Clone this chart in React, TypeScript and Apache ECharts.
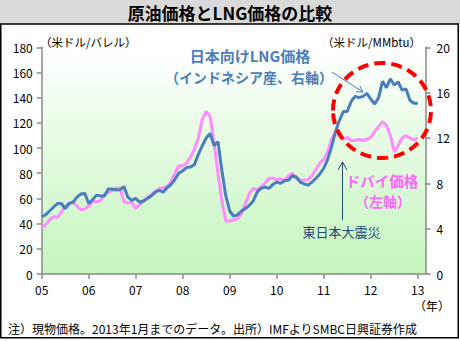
import React, { useEffect, useRef } from "react";
import * as echarts from "echarts";

// Monthly data, Jan 2005 .. Jan 2013
const lngJapan: number[] = [
  5.06, 5.22, 5.56, 5.89, 6.22, 6.22, 5.78, 6.22, 6.33, 6.78, 7.06, 7.11,
  6.22, 6.56, 6.96, 6.89, 6.89, 7.5, 7.5, 7.41, 7.44, 7.71, 6.78, 6.5,
  6.67, 6.33, 6.44, 6.67, 6.89, 7.22, 7.39, 7.22, 7.61, 7.89, 8.33, 8.89,
  9.11, 9.39, 9.44, 9.67, 10.56, 11.33, 12.0, 12.4, 11.33, 11.67, 9.11, 6.89,
  5.56, 5.11, 5.22, 5.56, 5.78, 6.06, 6.44, 7.22, 7.56, 7.67, 7.56, 7.89,
  8.11, 8.0, 8.22, 8.28, 8.67, 8.56, 8.11, 7.94, 7.84, 8.11, 8.44, 8.83,
  9.33, 10.11, 11.22, 12.56, 13.56, 14.33, 14.33, 15.22, 15.67, 15.56, 15.67, 15.94,
  15.44, 15.0, 15.56, 17.0, 16.44, 17.22, 16.67, 16.94, 16.22, 16.33, 15.33, 15.06,
  15.06,
];

const dubai: number[] = [
  36.5, 39, 43, 45.5, 45, 49, 54, 56, 57, 54, 51, 51.5,
  54, 57.5, 57.5, 58, 63, 65, 66, 68, 68, 57.5, 56.5, 56.5,
  52, 55, 58, 61, 63, 65.5, 68, 68.5, 69.5, 73, 80, 86,
  86, 88, 93, 99, 108, 123, 129, 125, 104, 80, 58, 42,
  42, 43, 44, 48, 56, 64, 68, 67, 69, 72, 76, 76,
  75, 75.5, 74.5, 78, 80, 75.5, 74.5, 74.5, 75, 78, 83, 88,
  91, 97, 107, 113, 110, 107, 108.5, 106, 106, 107, 106, 107,
  108.5, 113, 117, 121, 118, 110, 97, 102, 108, 110, 108, 106.5,
  108,
];

const yearLabels: string[] = ["05", "06", "07", "08", "09", "10", "11", "12", "13"];
const startYear = 2005;
const axisMonths = 99; // Jan 2005 .. Mar 2013

const months: string[] = Array.from({ length: axisMonths }, (_, i) => {
  const y = startYear + Math.floor(i / 12);
  const m = (i % 12) + 1;
  return `${y}-${m < 10 ? "0" + m : m}`;
});

const FONT = '"Noto Sans CJK JP", "Noto Sans", sans-serif';

export default function App() {
  const ref = useRef<HTMLDivElement>(null);
  useEffect(() => {
    if (!ref.current) return;
    const chart = echarts.init(ref.current, null, { renderer: "svg" });
    const axisLineStyle = { color: "#8a8a8a", width: 1.5 };
    chart.setOption({
      animation: false,
      backgroundColor: "#ffffff",
      textStyle: { fontFamily: FONT },
      grid: {
        left: 41.7,
        right: 460 - 425.6,
        top: 47.3,
        bottom: 341 - 274,
        show: true,
        borderWidth: 0,
        backgroundColor: new echarts.graphic.LinearGradient(0, 0, 0, 1, [
          { offset: 0, color: "#ffffff" },
          { offset: 1, color: "#c4f5bd" },
        ]),
      },
      xAxis: {
        type: "category",
        data: months,
        boundaryGap: false,
        axisLine: { lineStyle: axisLineStyle },
        axisTick: {
          length: 5,
          lineStyle: axisLineStyle,
          interval: (i: number) => i % 12 === 0,
        },
        axisLabel: {
          interval: (i: number) => i % 12 === 0,
          formatter: (v: string) => {
            const idx = parseInt(v.slice(0, 4), 10) - startYear;
            return yearLabels[idx] ?? "";
          },
          color: "#000",
          fontSize: 12,
          margin: 9,
          fontFamily: FONT,
        },
        splitLine: { show: false },
      },
      yAxis: [
        {
          type: "value",
          min: 0,
          max: 180,
          interval: 20,
          position: "left",
          axisLine: { show: true, lineStyle: axisLineStyle },
          axisTick: { show: true, length: 5, lineStyle: axisLineStyle },
          axisLabel: { color: "#000", fontSize: 12, margin: 9, fontFamily: FONT },
          splitLine: { show: false },
        },
        {
          type: "value",
          min: 0,
          max: 20,
          interval: 4,
          position: "right",
          axisLine: { show: true, lineStyle: axisLineStyle },
          axisTick: { show: true, length: 5, lineStyle: axisLineStyle },
          axisLabel: { color: "#000", fontSize: 12, margin: 11, fontFamily: FONT },
          splitLine: { show: false },
        },
      ],
      series: [
        {
          name: "ドバイ価格",
          type: "line",
          yAxisIndex: 0,
          data: dubai,
          showSymbol: false,
          symbol: "none",
          lineStyle: { color: "#ff8cff", width: 3 },
          z: 2,
        },
        {
          name: "日本向けLNG価格",
          type: "line",
          yAxisIndex: 1,
          data: lngJapan,
          showSymbol: false,
          symbol: "none",
          lineStyle: { color: "#4a7ebb", width: 3 },
          z: 3,
        },
      ],
      graphic: [
        // title bar
        {
          type: "rect",
          shape: { x: 0, y: 0, width: 460, height: 24 },
          style: { fill: "#d9d9d9" },
          z: 0,
        },
        {
          type: "rect",
          shape: { x: 0.75, y: 24, width: 457.5, height: 313.8 },
          style: { fill: "none", stroke: "#000", lineWidth: 1.5 },
          z: 10,
        },
        {
          type: "text",
          style: {
            text: "原油価格とLNG価格の比較",
            x: 230,
            y: 12.5,
            textAlign: "center",
            textVerticalAlign: "middle",
            fill: "#000",
            font: `bold 17px ${FONT}`,
          },
        },
        // unit labels
        {
          type: "text",
          style: {
            text: "（米ドル/バレル）",
            x: 40,
            y: 42,
            textAlign: "left",
            textVerticalAlign: "middle",
            fill: "#000",
            font: `11.5px ${FONT}`,
          },
        },
        {
          type: "text",
          style: {
            text: "（米ドル/MMbtu）",
            x: 421,
            y: 42,
            textAlign: "right",
            textVerticalAlign: "middle",
            fill: "#000",
            font: `11.5px ${FONT}`,
          },
        },
        {
          type: "text",
          style: {
            text: "（年）",
            x: 450,
            y: 305,
            textAlign: "right",
            textVerticalAlign: "middle",
            fill: "#000",
            font: `12px ${FONT}`,
          },
        },
        // footer
        {
          type: "text",
          style: {
            text: "注）現物価格。2013年1月までのデータ。出所）IMFよりSMBC日興証券作成",
            x: 8,
            y: 328,
            textAlign: "left",
            textVerticalAlign: "middle",
            fill: "#000",
            font: `12px ${FONT}`,
          },
        },
        // LNG annotation
        {
          type: "text",
          style: {
            text: "日本向けLNG価格",
            x: 250,
            y: 55,
            textAlign: "center",
            textVerticalAlign: "middle",
            fill: "#4a7ebb",
            font: `bold 15px ${FONT}`,
          },
        },
        {
          type: "text",
          style: {
            text: "（インドネシア産、右軸）",
            x: 249,
            y: 76.5,
            textAlign: "center",
            textVerticalAlign: "middle",
            fill: "#4a7ebb",
            font: `bold 14px ${FONT}`,
          },
        },
        {
          type: "line",
          shape: { x1: 332, y1: 72, x2: 363, y2: 92 },
          style: { stroke: "#4a7ebb", lineWidth: 1 },
          z: 5,
        },
        {
          type: "polyline",
          shape: { points: [[359.8, 85.8], [363, 92], [356, 91.7]] },
          style: { stroke: "#4a7ebb", lineWidth: 1, fill: "none" },
          z: 5,
        },
        // red dashed circle
        {
          type: "ellipse",
          shape: { cx: 382, cy: 110.5, rx: 49, ry: 47.5 },
          style: { fill: "none", stroke: "#ff0000", lineWidth: 4, lineDash: [11, 6] },
          z: 6,
        },
        // Dubai annotation
        {
          type: "text",
          style: {
            text: "ドバイ価格",
            x: 382,
            y: 180,
            textAlign: "center",
            textVerticalAlign: "middle",
            fill: "#ff66ff",
            font: `bold 14.5px ${FONT}`,
          },
        },
        {
          type: "text",
          style: {
            text: "（左軸）",
            x: 383,
            y: 200.5,
            textAlign: "center",
            textVerticalAlign: "middle",
            fill: "#ff66ff",
            font: `bold 14px ${FONT}`,
          },
        },
        // earthquake arrow
        {
          type: "line",
          shape: { x1: 342.5, y1: 220, x2: 342.5, y2: 162 },
          style: { stroke: "#1f497d", lineWidth: 1 },
          z: 5,
        },
        {
          type: "polyline",
          shape: { points: [[338, 170], [342.5, 162], [347, 170]] },
          style: { stroke: "#1f497d", lineWidth: 1, fill: "none" },
          z: 5,
        },
        {
          type: "text",
          style: {
            text: "東日本大震災",
            x: 341.5,
            y: 231,
            textAlign: "center",
            textVerticalAlign: "middle",
            fill: "#1f497d",
            font: `13px ${FONT}`,
          },
        },
      ],
    });
    return () => chart.dispose();
  }, []);
  return (
    <div
      ref={ref}
      style={{ position: "fixed", left: 0, top: 0, width: 460, height: 341 }}
    />
  );
}
